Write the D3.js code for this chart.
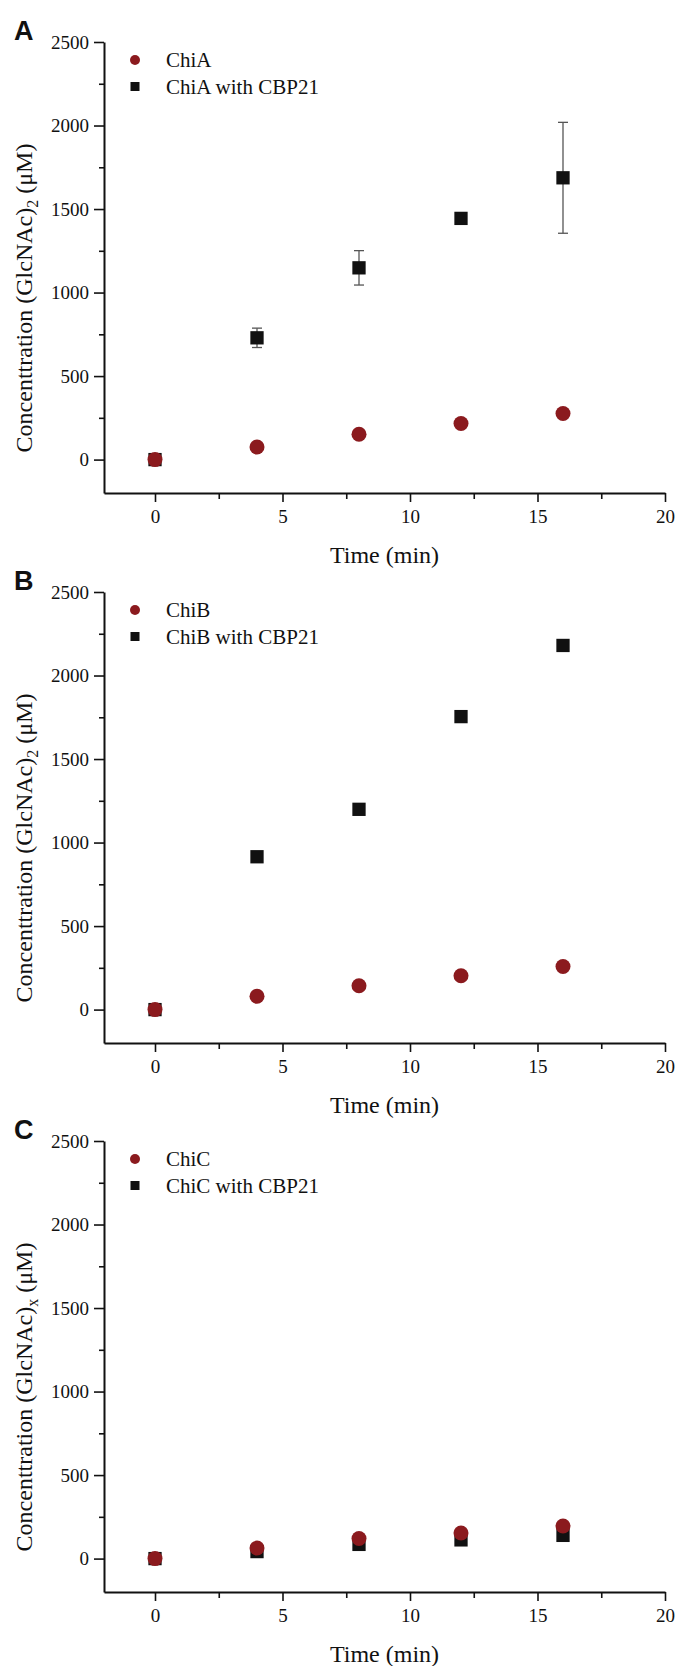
<!DOCTYPE html>
<html>
<head>
<meta charset="utf-8">
<script src="https://cdn.jsdelivr.net/npm/d3@7"></script>
<style>
    body { margin: 0; background: #fff; }
    svg text { font-family: "Liberation Serif", "Times New Roman", serif; fill: #111; }
    .axis path, .axis line { stroke: #111; }
</style>
</head>
<body>
<div id="chart"></div>
<script>
// time points (min)
var times = [0, 4, 8, 12, 16];

// panel A
var chiA = [0, 75, 152, 216, 276];
var chiACbp = [0, 729, 1148, 1444, 1687];
var chiACbpErr = [0, 58, 103, 0, 332];

// panel B
var chiB = [0, 80, 143, 203, 258];
var chiBCbp = [0, 915, 1199, 1754, 2180];

// panel C
var chiC = [0, 63, 120, 153, 195];
var chiCCbp = [0, 42, 85, 112, 139];

var yMajor = [0, 500, 1000, 1500, 2000, 2500];
var yMinor = [250, 750, 1250, 1750, 2250];
var xMajor = [0, 5, 10, 15, 20];
var xMinor = [2.5, 7.5, 12.5, 17.5];

var panels = [
    {letter: "A", top: 42, name: "ChiA", sub: "2", circles: chiA, squares: chiACbp, err: chiACbpErr},
    {letter: "B", top: 592, name: "ChiB", sub: "2", circles: chiB, squares: chiBCbp, err: null},
    {letter: "C", top: 1141, name: "ChiC", sub: "x", circles: chiC, squares: chiCCbp, err: null}
];

var red = "#8b1a1e";
var black = "#111";
var serif = "'Liberation Serif', 'Times New Roman', serif";

var svg = d3.select("#chart").append("svg")
    .attr("width", 675)
    .attr("height", 1666);

function drawPanel(p) {
    var left = 104, width = 561, height = 451;

    var x = d3.scaleLinear().domain([-2, 20]).range([0, width]);
    var y = d3.scaleLinear().domain([-200, 2500]).range([height, 0]);

    var g = svg.append("g")
        .attr("transform", "translate(" + left + "," + p.top + ")");

    // minor ticks first so the main axis sits on top
    g.append("g")
        .attr("class", "axis")
        .call(d3.axisLeft(y).tickValues(yMinor).tickSize(5).tickFormat(""))
        .call(function(a) { a.select(".domain").remove(); });
    g.append("g")
        .attr("class", "axis")
        .attr("transform", "translate(0," + height + ")")
        .call(d3.axisBottom(x).tickValues(xMinor).tickSize(6).tickFormat(""))
        .call(function(a) { a.select(".domain").remove(); });

    g.append("g")
        .attr("class", "axis")
        .call(d3.axisLeft(y).tickValues(yMajor).tickSize(10).tickSizeOuter(0).tickPadding(5).tickFormat(d3.format("d")));
    g.append("g")
        .attr("class", "axis")
        .attr("transform", "translate(0," + height + ")")
        .call(d3.axisBottom(x).tickValues(xMajor).tickSize(9).tickSizeOuter(0).tickPadding(8).tickFormat(d3.format("d")));

    g.selectAll(".axis line").attr("stroke-width", 1.6);
    g.selectAll(".axis .domain").attr("stroke-width", 2);
    g.selectAll(".axis").attr("font-family", null);
    g.selectAll(".axis text")
        .style("font-size", "19px")
        .style("font-family", serif)
        .attr("fill", black);

    // axis titles
    g.append("text")
        .attr("x", width / 2)
        .attr("y", height + 70)
        .attr("text-anchor", "middle")
        .attr("font-size", "24px")
        .text("Time (min)");

    var yt = g.append("text")
        .attr("transform", "translate(" + (32 - left) + "," + 256 + ") rotate(-90)")
        .attr("text-anchor", "middle")
        .attr("font-size", "24px");
    yt.append("tspan").text("Concenttration (GlcNAc)");
    yt.append("tspan").attr("font-size", "16px").attr("dy", 6).text(p.sub);
    yt.append("tspan").attr("dy", -6).text(" (\u03bcM)");

    // panel letter
    svg.append("text")
        .attr("x", 14)
        .attr("y", p.top - 2)
        .attr("font-weight", "bold")
        .attr("font-size", "27px")
        .attr("fill", black)
        .style("font-family", "'Liberation Sans', Arial, sans-serif")
        .text(p.letter);

    // error bars for the CBP21 series
    if (p.err) {
        var eb = g.append("g").attr("stroke", "#555").attr("stroke-width", 1.3);
        times.forEach(function(t, i) {
            var e = p.err[i];
            if (!e) return;
            var cx = x(t), y1 = y(p.squares[i] + e), y2 = y(p.squares[i] - e);
            eb.append("line").attr("x1", cx).attr("x2", cx).attr("y1", y1).attr("y2", y2);
            eb.append("line").attr("x1", cx - 5).attr("x2", cx + 5).attr("y1", y1).attr("y2", y1);
            eb.append("line").attr("x1", cx - 5).attr("x2", cx + 5).attr("y1", y2).attr("y2", y2);
        });
    }

    var sq = 13.3;
    g.selectAll(".sq")
        .data(p.squares)
        .enter().append("rect")
        .attr("class", "sq")
        .attr("x", function(d, i) { return x(times[i]) - sq / 2; })
        .attr("y", function(d) { return y(d) - sq / 2; })
        .attr("width", sq)
        .attr("height", sq)
        .attr("fill", black);

    g.selectAll(".dot")
        .data(p.circles)
        .enter().append("circle")
        .attr("class", "dot")
        .attr("cx", function(d, i) { return x(times[i]); })
        .attr("cy", function(d) { return y(d); })
        .attr("r", 7.5)
        .attr("fill", red);

    // legend
    var lg = g.append("g").attr("transform", "translate(31,0)");
    lg.append("circle").attr("cx", 0).attr("cy", 18).attr("r", 5).attr("fill", red);
    lg.append("rect").attr("x", -4.5).attr("y", 40).attr("width", 9).attr("height", 9).attr("fill", black);
    lg.append("text").attr("x", 31).attr("y", 25).attr("font-size", "21px").text(p.name);
    lg.append("text").attr("x", 31).attr("y", 52).attr("font-size", "21px").text(p.name + " with CBP21");
}

panels.forEach(drawPanel);
</script>
</body>
</html>
